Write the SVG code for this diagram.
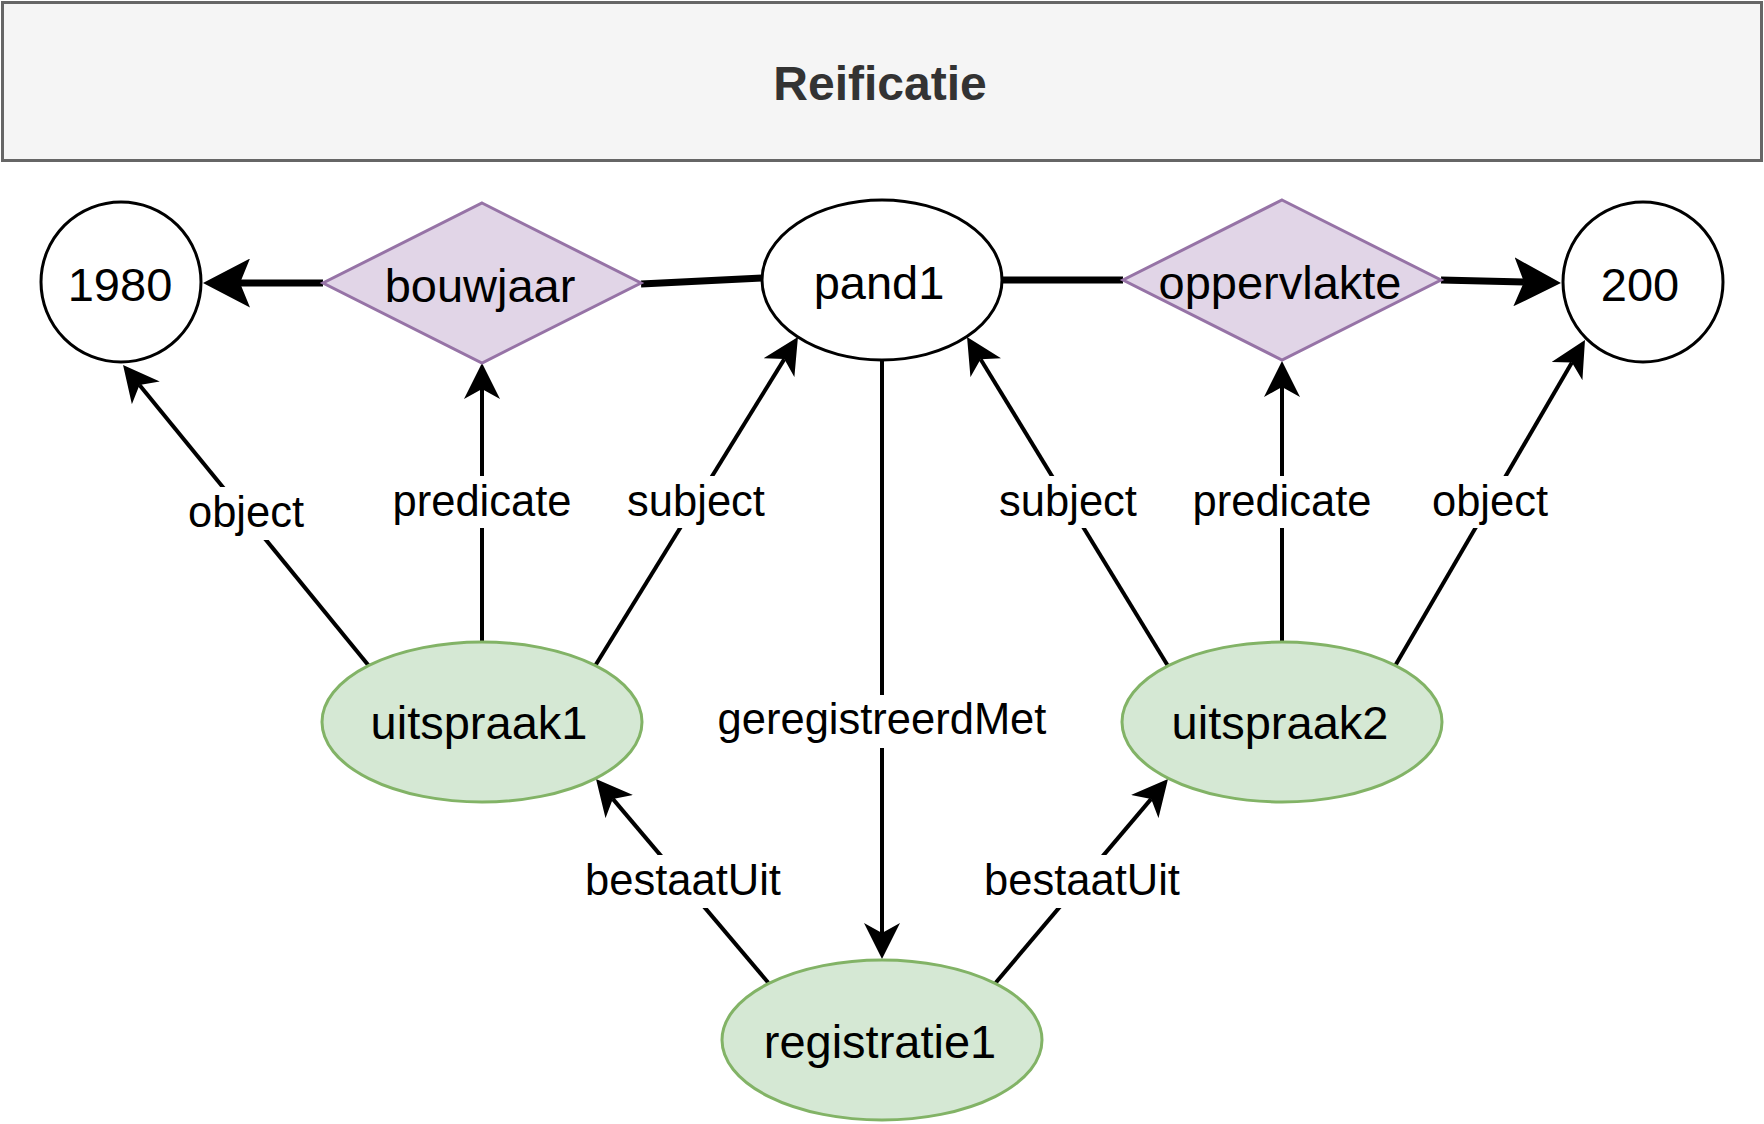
<svg xmlns="http://www.w3.org/2000/svg" width="1764" height="1124" viewBox="0 0 1764 1124">
<style>
  .node text, .lbl text { font-family: "Liberation Sans", Arial, sans-serif; fill: #000; text-anchor: middle; }
  .node text { font-size: 47px; }
  .lbl text { font-size: 43.5px; }
  .lbl rect { fill: #ffffff; }
  .plain { fill: #ffffff; stroke: #000000; stroke-width: 3; }
  .green { fill: #d5e8d4; stroke: #82b366; stroke-width: 3; }
  .purple { fill: #e1d5e7; stroke: #9673a6; stroke-width: 3; }
  .thin { fill: none; stroke: #000; stroke-width: 4; }
  .thick { fill: none; stroke: #000; stroke-width: 7; }
  .title text { font-family: "Liberation Sans", Arial, sans-serif; font-size: 48px; font-weight: bold; fill: #333333; text-anchor: middle; }
</style>
<defs>
  <marker id="arr" markerUnits="userSpaceOnUse" viewBox="0 0 36 36" markerWidth="36" markerHeight="36" refX="10" refY="18" orient="auto">
    <path d="M36,18 L0,0 L10,18 L0,36 Z" fill="#000"/>
  </marker>
  <marker id="arrBig" markerUnits="userSpaceOnUse" viewBox="0 0 47 49" markerWidth="47" markerHeight="49" refX="10" refY="24.5" orient="auto">
    <path d="M47,24.5 L0,0 L10,24.5 L0,49 Z" fill="#000"/>
  </marker>
</defs>
<rect width="1764" height="1124" fill="#ffffff"/>

<g id="title" class="title">
  <rect x="2.5" y="2.5" width="1759" height="158" fill="#f5f5f5" stroke="#666666" stroke-width="3"/>
  <text x="880" y="100">Reificatie</text>
</g>

<g id="connectors">
  <line class="thick" x1="323" y1="283" x2="240" y2="283" marker-end="url(#arrBig)"/>
  <line class="thick" x1="641" y1="284" x2="762" y2="278"/>
  <line class="thick" x1="1002" y1="280" x2="1123" y2="280"/>
  <line class="thick" x1="1441" y1="280" x2="1524" y2="282.1" marker-end="url(#arrBig)"/>
  <line class="thin" x1="369" y1="666" x2="139.5" y2="385.1" marker-end="url(#arr)"/>
  <line class="thin" x1="482" y1="642" x2="482" y2="389" marker-end="url(#arr)"/>
  <line class="thin" x1="595" y1="666" x2="784.3" y2="359.1" marker-end="url(#arr)"/>
  <line class="thin" x1="882" y1="360" x2="882" y2="933" marker-end="url(#arr)"/>
  <line class="thin" x1="768.3" y1="982.7" x2="612.8" y2="798.9" marker-end="url(#arr)"/>
  <line class="thin" x1="995.7" y1="982.7" x2="1151.2" y2="798.9" marker-end="url(#arr)"/>
  <line class="thin" x1="1168" y1="666" x2="980.6" y2="359.2" marker-end="url(#arr)"/>
  <line class="thin" x1="1282" y1="642" x2="1282" y2="387" marker-end="url(#arr)"/>
  <line class="thin" x1="1395" y1="666" x2="1571.9" y2="362.5" marker-end="url(#arr)"/>
  <g class="lbl">
    <rect x="186" y="487" width="122" height="53"/><text x="246" y="527">object</text>
    <rect x="389" y="476" width="186" height="52"/><text x="482" y="516">predicate</text>
    <rect x="625" y="476" width="142" height="52"/><text x="696" y="516">subject</text>
    <rect x="716" y="695" width="332" height="53"/><text x="882" y="734">geregistreerdMet</text>
    <rect x="582" y="855" width="202" height="53"/><text x="683" y="895">bestaatUit</text>
    <rect x="981" y="855" width="202" height="53"/><text x="1082" y="895">bestaatUit</text>
    <rect x="997" y="476" width="142" height="52"/><text x="1068" y="516">subject</text>
    <rect x="1189" y="476" width="186" height="52"/><text x="1282" y="516">predicate</text>
    <rect x="1429" y="476" width="122" height="52"/><text x="1490" y="516">object</text>
  </g>
</g>

<g id="n1980" class="node">
  <circle class="plain" cx="121" cy="282" r="80"/>
  <text x="120" y="301">1980</text>
</g>
<g id="bouwjaar" class="node">
  <polygon class="purple" points="482,203 641,283 482,363 323,283"/>
  <text x="480" y="302">bouwjaar</text>
</g>
<g id="pand1" class="node">
  <ellipse class="plain" cx="882" cy="280" rx="120" ry="80"/>
  <text x="879" y="299">pand1</text>
</g>
<g id="oppervlakte" class="node">
  <polygon class="purple" points="1282,200 1441,280 1282,360 1123,280"/>
  <text x="1280" y="299">oppervlakte</text>
</g>
<g id="n200" class="node">
  <circle class="plain" cx="1643" cy="282" r="80"/>
  <text x="1640" y="301">200</text>
</g>
<g id="uitspraak1" class="node">
  <ellipse class="green" cx="482" cy="722" rx="160" ry="80"/>
  <text x="479" y="739">uitspraak1</text>
</g>
<g id="uitspraak2" class="node">
  <ellipse class="green" cx="1282" cy="722" rx="160" ry="80"/>
  <text x="1280" y="739">uitspraak2</text>
</g>
<g id="registratie1" class="node">
  <ellipse class="green" cx="882" cy="1040" rx="160" ry="80"/>
  <text x="880" y="1058">registratie1</text>
</g>
</svg>
